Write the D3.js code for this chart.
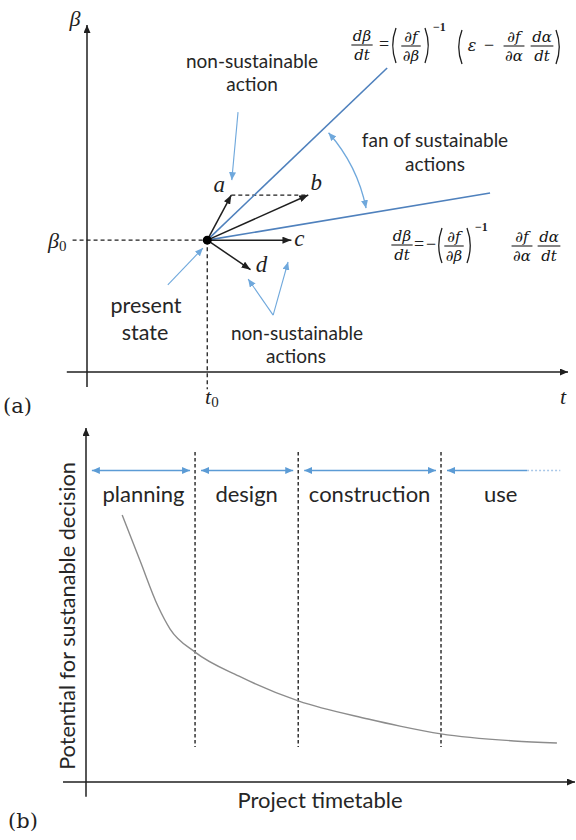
<!DOCTYPE html>
<html><head><meta charset="utf-8">
<script src="https://cdn.jsdelivr.net/npm/d3@7"></script>
<style>
html,body{margin:0;padding:0;background:#fff;}
svg{display:block;}
.sans{font-family:Lato,"Open Sans",sans-serif;fill:#262626;}
.math{font-family:"Liberation Serif","DejaVu Serif",serif;font-style:italic;fill:#1f1f1f;}
.eq{font-family:"DejaVu Serif",serif;font-style:italic;fill:#151515;}
.roman{font-family:"Liberation Serif","DejaVu Serif",serif;fill:#1f1f1f;}
.tag{font-family:"DejaVu Serif",serif;fill:#1f1f1f;}
</style></head><body>
<svg id="fig" width="576" height="840"></svg>
<script>
// ---------- (a) actions around the present state ----------
const actionNames = ["a", "b", "c", "d"];
const actionT     = [30, 46, 42.5, 34];
const actionBeta  = [51, 51, 38, 29.5];
const presentT = 25;
const presentBeta = 38;
// ends of the two lines bounding the fan of sustainable actions
const fanEndT    = [62.4, 83.8];
const fanEndBeta = [87.6, 51.6];

// ---------- (b) potential along the project timetable ----------
const phases     = ["planning", "design", "construction", "use"];
const phaseEdges = [1.2, 22.3, 43.4, 72.6, 97];
const timeline   = [7.4, 11, 14.7, 17.2, 22.3, 31.3, 43.4, 57.7, 64.2, 72.6, 87.5, 96.3];
const potential  = [75.4, 62.7, 49.7, 43.2, 36.7, 29.9, 22.9, 17.8, 15.8, 13.6, 11.6, 11.0];

const ink = "#1f1f1f";
const fanBlue = "#4f81bd";
const noteBlue = "#6fa8dc";
const phaseBlue = "#5b9bd5";

const svg = d3.select("#fig");
const defs = svg.append("defs");
function addMarker(id, color, len, wid) {
  defs.append("marker")
    .attr("id", id)
    .attr("viewBox", `0 0 ${len} ${wid}`)
    .attr("refX", len).attr("refY", wid / 2)
    .attr("markerWidth", len).attr("markerHeight", wid)
    .attr("markerUnits", "userSpaceOnUse")
    .attr("orient", "auto-start-reverse")
    .append("path")
    .attr("d", `M0,0L${len},${wid / 2}L0,${wid}Z`)
    .attr("fill", color);
}
addMarker("headAxis", ink, 8, 7);
addMarker("headVec", ink, 9, 7);
addMarker("headNote", noteBlue, 8, 7);
addMarker("headPhase", phaseBlue, 8, 7);

function line(g, x1, y1, x2, y2) {
  return g.append("line").attr("x1", x1).attr("y1", y1).attr("x2", x2).attr("y2", y2);
}
function label(g, cls, x, y, str, size, anchor) {
  return g.append("text").attr("class", cls).attr("x", x).attr("y", y)
    .attr("font-size", size).attr("text-anchor", anchor || "middle").text(str);
}

// ===================== panel (a) =====================
const tA = d3.scaleLinear().domain([0, 100]).range([87, 568]);
const bA = d3.scaleLinear().domain([0, 100]).range([372, 25]);
const gA = svg.append("g");

// axes
line(gA, tA(0), bA(-4.3), tA(0), bA(100)).attr("stroke", ink).attr("stroke-width", 1.5)
  .attr("marker-end", "url(#headAxis)");
line(gA, tA(-4.2), bA(0), tA(100), bA(0)).attr("stroke", ink).attr("stroke-width", 1.5)
  .attr("marker-end", "url(#headAxis)");

const px = tA(presentT), py = bA(presentBeta);

// guides to beta0 and t0
line(gA, tA(-3), py, px, py).attr("stroke", ink).attr("stroke-width", 1.3).attr("stroke-dasharray", "4,3");
line(gA, px, py, px, bA(-5)).attr("stroke", ink).attr("stroke-width", 1.3).attr("stroke-dasharray", "4,3");
// horizontal guide from a to b
line(gA, tA(actionT[0]), bA(actionBeta[0]), tA(actionT[1]), bA(actionBeta[1]))
  .attr("stroke", ink).attr("stroke-width", 1.3).attr("stroke-dasharray", "4,3");

// fan edges
fanEndT.forEach((t, i) => {
  line(gA, px, py, tA(t), bA(fanEndBeta[i])).attr("stroke", fanBlue).attr("stroke-width", 1.6);
});

// action vectors
actionNames.forEach((n, i) => {
  line(gA, px, py, tA(actionT[i]), bA(actionBeta[i]))
    .attr("stroke", ink).attr("stroke-width", 1.5).attr("marker-end", "url(#headVec)");
});
gA.append("circle").attr("cx", px).attr("cy", py).attr("r", 4.5).attr("fill", "#000");

// action letters
const letterOffset = { a: [-12, -3], b: [8, -5], c: [8, 6], d: [11, 2] };
actionNames.forEach((n, i) => {
  const o = letterOffset[n];
  label(gA, "math", tA(actionT[i]) + o[0], bA(actionBeta[i]) + o[1], n, 23);
});

// arc spanning the fan
const arcR = 162;
const angUp = Math.atan2(-108, 122), angLo = Math.atan2(-32, 159);
const p1 = [px + arcR * Math.cos(angUp), py + arcR * Math.sin(angUp)];
const p2 = [px + arcR * Math.cos(angLo), py + arcR * Math.sin(angLo)];
gA.append("path")
  .attr("d", `M${p1[0]},${p1[1]}A${arcR},${arcR} 0 0 1 ${p2[0]},${p2[1]}`)
  .attr("fill", "none").attr("stroke", noteBlue).attr("stroke-width", 1.3)
  .attr("marker-start", "url(#headNote)").attr("marker-end", "url(#headNote)");

// annotation pointers
const notes = [
  [31.4, 74.9, 30.1, 55.3],
  [16.8, 25.1, 24.1, 35.7],
  [38.7, 16.4, 33.5, 26.8],
  [38.7, 16.4, 41.8, 31.7]
];
notes.forEach(n => {
  line(gA, tA(n[0]), bA(n[1]), tA(n[2]), bA(n[3]))
    .attr("stroke", noteBlue).attr("stroke-width", 1.1).attr("marker-end", "url(#headNote)");
});

const noteSize = 19;
label(gA, "sans", 252, 68, "non-sustainable", noteSize);
label(gA, "sans", 252, 91, "action", noteSize);
label(gA, "sans", 146, 313, "present", 21.5);
label(gA, "sans", 145, 340, "state", 21.5);
label(gA, "sans", 297, 340, "non-sustainable", noteSize);
label(gA, "sans", 296, 363, "actions", noteSize);
label(gA, "sans", 435, 147, "fan of sustainable", noteSize);
label(gA, "sans", 435, 171, "actions", noteSize);

// axis symbols
label(gA, "math", 75, 26, "β", 22);
const b0 = gA.append("text").attr("class", "math").attr("x", 48).attr("y", 248).attr("font-size", 22);
b0.append("tspan").text("β");
b0.append("tspan").attr("font-style", "normal").attr("font-size", 15).attr("dy", 3).text("0");
const t0 = gA.append("text").attr("class", "math").attr("x", 205).attr("y", 404).attr("font-size", 22);
t0.append("tspan").text("t");
t0.append("tspan").attr("font-style", "normal").attr("font-size", 15).attr("dy", 3).text("0");
label(gA, "math", 563, 404, "t", 22);
label(gA, "tag", 3, 413, "(a)", 21, "start");

// equations for the fan boundaries
const mfs = 15;
function frac(g, cx, barY, num, den) {
  const n = label(g, "eq", cx, barY - 4.2, num, mfs);
  const d = label(g, "eq", cx, barY + 14.8, den, mfs);
  const w = Math.max(n.node().getComputedTextLength(), d.node().getComputedTextLength()) + 3;
  line(g, cx - w / 2, barY, cx + w / 2, barY).attr("stroke", ink).attr("stroke-width", 1.1);
}
function paren(g, x, top, bottom, open) {
  const w = 5, mid = (top + bottom) / 2;
  const d = open
    ? `M${x + w},${top}Q${x - 1.5},${mid} ${x + w},${bottom}`
    : `M${x},${top}Q${x + w + 1.5},${mid} ${x},${bottom}`;
  g.append("path").attr("d", d).attr("fill", "none").attr("stroke", ink).attr("stroke-width", 1.3);
}
function sup(g, x, y) {
  label(g, "roman", x, y, "−1", 12, "start").attr("font-weight", "bold");
}
// upper boundary
frac(gA, 362, 45, "dβ", "dt");
label(gA, "roman", 384, 50, "=", 18);
paren(gA, 391, 28, 63, true);
frac(gA, 411, 46, "∂f", "∂β");
paren(gA, 425, 28, 63, false);
sup(gA, 433, 31);
paren(gA, 457, 30, 64, true);
label(gA, "eq", 472, 51, "ε", 16);
label(gA, "roman", 489, 51, "−", 18);
frac(gA, 514, 46, "∂f", "∂α");
frac(gA, 542, 46, "dα", "dt");
paren(gA, 556, 30, 64, false);
// lower boundary
frac(gA, 402, 245, "dβ", "dt");
label(gA, "roman", 419, 250, "=", 18);
label(gA, "roman", 431, 250, "−", 18);
paren(gA, 437, 228, 263, true);
frac(gA, 454, 246, "∂f", "∂β");
paren(gA, 467, 228, 263, false);
sup(gA, 475, 231);
frac(gA, 522, 246, "∂f", "∂α");
frac(gA, 549, 246, "dα", "dt");

// ===================== panel (b) =====================
const tB = d3.scaleLinear().domain([0, 100]).range([86, 575]);
const yB = d3.scaleLinear().domain([0, 100]).range([782, 428]);
const gB = svg.append("g");

line(gB, tB(0), yB(-4.2), tB(0), yB(100)).attr("stroke", ink).attr("stroke-width", 1.5)
  .attr("marker-end", "url(#headAxis)");
line(gB, tB(-4.7), yB(0), tB(100), yB(0)).attr("stroke", ink).attr("stroke-width", 1.5)
  .attr("marker-end", "url(#headAxis)");

// phase boundaries
phaseEdges.slice(1, 4).forEach(e => {
  line(gB, tB(e), yB(93.2), tB(e), yB(9.9)).attr("stroke", "#333").attr("stroke-width", 1.5)
    .attr("stroke-dasharray", "3.5,2.5");
});

// phase spans
const rowY = yB(88);
phases.forEach((p, i) => {
  const x0 = tB(phaseEdges[i]) + (i === 0 ? 0 : 6);
  const last = i === phases.length - 1;
  const x1 = last ? tB(90.2) : tB(phaseEdges[i + 1]) - 5;
  const seg = line(gB, x0, rowY, x1, rowY).attr("stroke", phaseBlue).attr("stroke-width", 1.6)
    .attr("marker-start", "url(#headPhase)");
  if (!last) seg.attr("marker-end", "url(#headPhase)");
  else line(gB, x1, rowY, tB(phaseEdges[i + 1]), rowY).attr("stroke", "#a9c8e8")
    .attr("stroke-width", 1.4).attr("stroke-dasharray", "2,2");
  label(gB, "sans", (tB(phaseEdges[i]) + tB(phaseEdges[i + 1])) / 2, yB(79.1), p, 22);
});

// potential curve
const lineGen = d3.line().x((d, i) => tB(timeline[i])).y(d => yB(d)).curve(d3.curveMonotoneX);
gB.append("path").attr("d", lineGen(potential)).attr("fill", "none")
  .attr("stroke", "#8c8c8c").attr("stroke-width", 1.4);

label(gB, "sans", 320, 808, "Project timetable", 22);
label(gB, "sans", 0, 0, "Potential for sustanable decision", 21.7)
  .attr("transform", "translate(75,616) rotate(-90)");
label(gB, "tag", 8, 828, "(b)", 21, "start");
</script>
</body></html>
